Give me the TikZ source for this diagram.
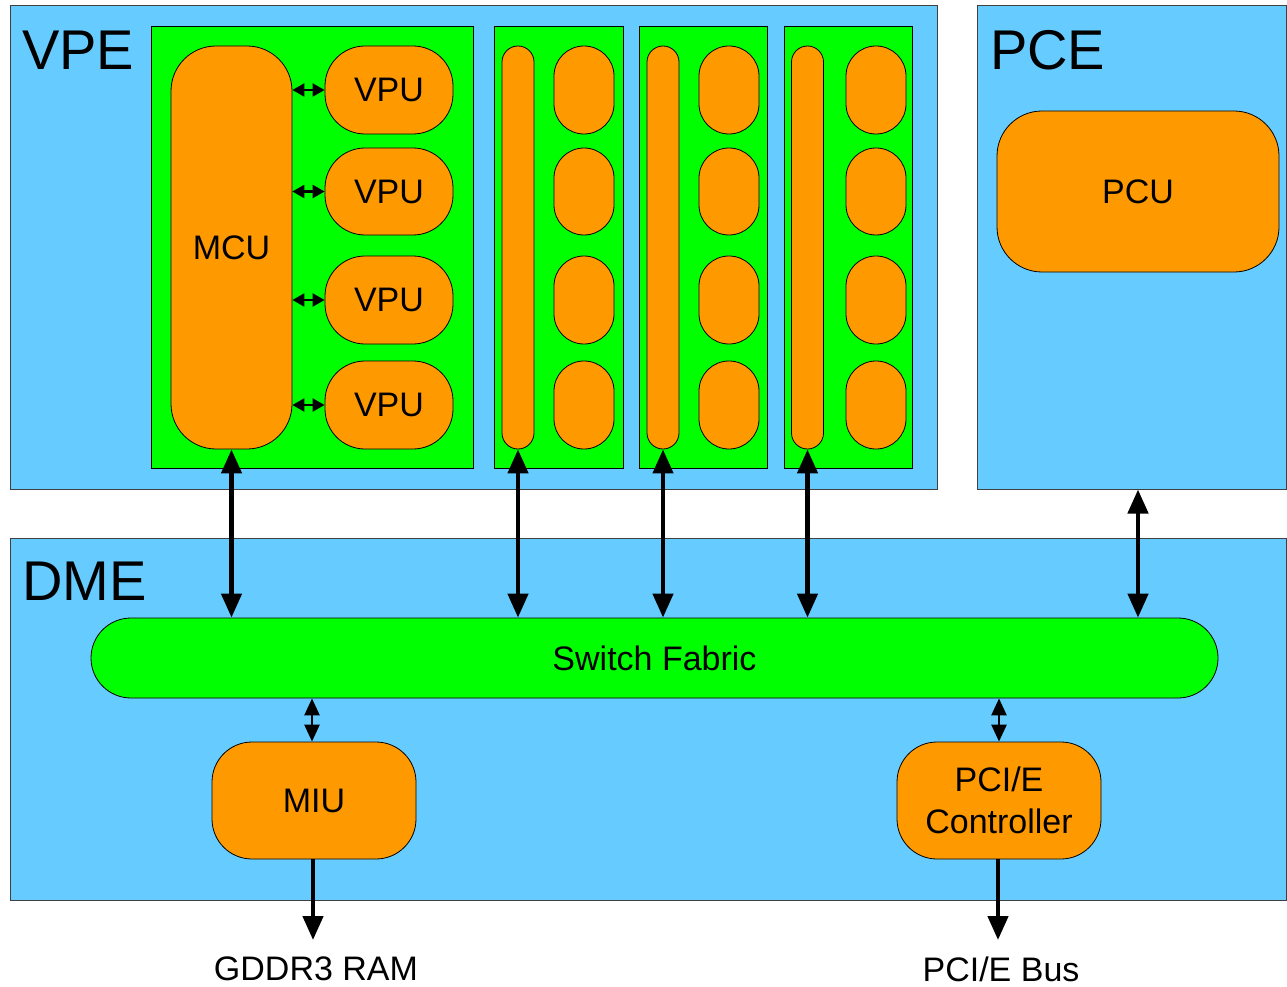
\documentclass[tikz,border=0pt]{standalone}
\usepackage{fontspec}
\setmainfont{Liberation Sans}
\usetikzlibrary{arrows.meta}
\definecolor{eblue}{HTML}{66CCFF}
\definecolor{egreen}{HTML}{00FF00}
\definecolor{eorange}{HTML}{FF9900}
\begin{document}
\begin{tikzpicture}[x=1pt,y=-1pt,
  engine/.style={draw=black!75,line width=1pt,fill=eblue,inner sep=0pt},
  panel/.style={draw=black,line width=0.8pt,fill=egreen,inner sep=0pt},
  unit/.style={draw=black,line width=0.8pt,fill=eorange,inner sep=0pt,align=center,font=\fontsize{34}{42}\selectfont},
  title/.style={inner sep=0pt,font=\fontsize{56}{60}\selectfont,anchor=base west},
  label/.style={inner sep=0pt,font=\fontsize{34}{40}\selectfont},
  bigarrow/.style={line width=4.5pt,{Triangle[length=24pt,width=20pt]}-{Triangle[length=24pt,width=20pt]}},
  bigone/.style={line width=4.5pt,-{Triangle[length=24pt,width=20pt]}},
  smallarrow/.style={line width=2.2pt,{Triangle[length=12pt,width=13pt]}-{Triangle[length=12pt,width=13pt]}},
  midarrow/.style={line width=2.5pt,{Triangle[length=17pt,width=15pt]}-{Triangle[length=17pt,width=15pt]}},
]
\useasboundingbox (0,0) rectangle (1287,987);
% engines
\node[engine,minimum width=927pt,minimum height=483pt] (vpe) at (473.5,247.5) {};
\node[engine,minimum width=309pt,minimum height=483pt] (pce) at (1131.5,247.5) {};
\node[engine,minimum width=1276pt,minimum height=362pt] (dme) at (648,719) {};
\node[title] (vpet) at (22,70) {VPE};
\node[title] (pcet) at (990,70) {PCE};
\node[title] (dmet) at (22,600) {DME};
% panels
\node[panel,minimum width=322pt,minimum height=442pt] (p1) at (312,247) {};
\node[panel,minimum width=129pt,minimum height=442pt] (p2) at (558.5,247) {};
\node[panel,minimum width=128pt,minimum height=442pt] (p3) at (703,247) {};
\node[panel,minimum width=128pt,minimum height=442pt] (p4) at (848,247) {};
% MCU and VPUs
\node[unit,minimum width=121pt,minimum height=403pt,rounded corners=45pt] (mcu) at (231.5,247.5) {MCU};
\node[unit,minimum width=128pt,minimum height=88pt,rounded corners=40pt] (vpu1) at (389,90) {VPU};
\node[unit,minimum width=128pt,minimum height=87pt,rounded corners=40pt] (vpu2) at (389,191.5) {VPU};
\node[unit,minimum width=128pt,minimum height=88pt,rounded corners=40pt] (vpu3) at (389,300) {VPU};
\node[unit,minimum width=128pt,minimum height=88pt,rounded corners=40pt] (vpu4) at (389,405) {VPU};
% other panels
\foreach \n/\bx/\ox in {b/518/584, c/663/729, d/807.5/876}{
  \node[unit,minimum width=32pt,minimum height=403pt,rounded corners=16pt] (bar\n) at (\bx,247.5) {};
  \node[unit,minimum width=60pt,minimum height=88pt,rounded corners=30pt] (o\n1) at (\ox,90) {};
  \node[unit,minimum width=60pt,minimum height=87pt,rounded corners=30pt] (o\n2) at (\ox,191.5) {};
  \node[unit,minimum width=60pt,minimum height=88pt,rounded corners=30pt] (o\n3) at (\ox,300) {};
  \node[unit,minimum width=60pt,minimum height=88pt,rounded corners=30pt] (o\n4) at (\ox,405) {};
}
% PCU
\node[unit,minimum width=282pt,minimum height=161pt,rounded corners=45pt] (pcu) at (1138,191.5) {PCU};
% DME contents
\node[unit,fill=egreen,minimum width=1127pt,minimum height=80pt,rounded corners=40pt] (sf) at (654.5,658) {Switch Fabric};
\node[unit,minimum width=204pt,minimum height=117pt,rounded corners=40pt] (miu) at (314,800.5) {MIU};
\node[unit,minimum width=204pt,minimum height=117pt,rounded corners=40pt] (pcie) at (999,800.5) {PCI/E\\Controller};
% arrows
\foreach \v in {vpu1,vpu2,vpu3,vpu4}{
  \draw[smallarrow] (mcu.east |- \v.west) -- (\v.west);
}
\draw[bigarrow] (mcu.south) -- (mcu.south |- sf.north);
\draw[bigarrow] (barb.south) -- (barb.south |- sf.north);
\draw[bigarrow] (barc.south) -- (barc.south |- sf.north);
\draw[bigarrow] (bard.south) -- (bard.south |- sf.north);
\draw[bigarrow] (pcu.center |- pce.south) -- (pcu.center |- sf.north);
\draw[midarrow] ([xshift=-2pt]miu.north |- sf.south) -- ([xshift=-2pt]miu.north);
\draw[midarrow] (pcie.north |- sf.south) -- (pcie.north);
\coordinate (gend) at (313,940);
\coordinate (pend) at (998,940);
\draw[bigone] ([xshift=-1pt]miu.south) -- (gend);
\draw[bigone] ([xshift=-1pt]pcie.south) -- (pend);
\node[label] (gddr) at (316,969) {GDDR3 RAM};
\node[label] (pbus) at (1001,969) {PCI/E Bus};
\end{tikzpicture}
\end{document}
